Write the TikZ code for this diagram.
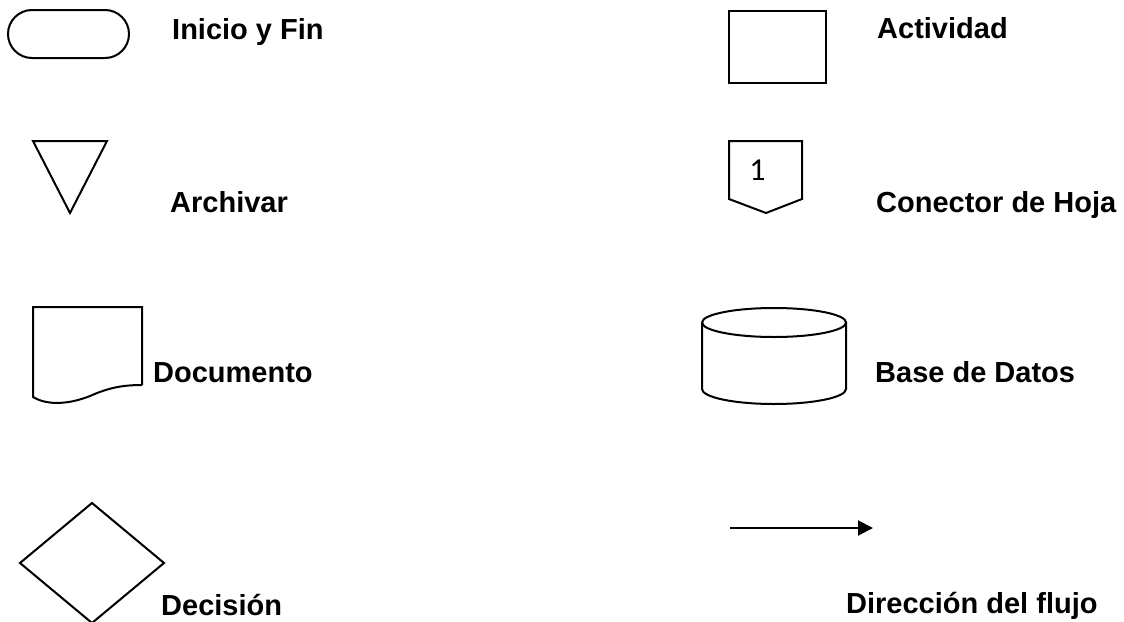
\documentclass[tikz,border=0pt]{standalone}
\usepackage{fontspec}
\setmainfont{Liberation Sans}
\newfontfamily\calib{Carlito}
\usetikzlibrary{arrows.meta}
\begin{document}
\begin{tikzpicture}[x=1pt,y=-1pt,
  shp/.style={draw=black,line width=2pt,line join=miter},
  lbl/.style={anchor=base west,inner sep=0pt,font=\fontsize{29}{34}\selectfont\bfseries},
  flow/.style={-{Triangle[length=15pt,width=15pt]},line width=2pt}]
\useasboundingbox (0,0) rectangle (1124,621);
% Inicio y Fin
\draw[shp,rounded corners=24pt] (8,10) rectangle (129,58);
\node[lbl] (tinicio) at (172,39) {Inicio y Fin};
% Actividad
\draw[shp] (729,11) rectangle (826,83);
\node[lbl] (tact) at (877,38) {Actividad};
% Archivar
\draw[shp] (33,141) -- (107,141) -- (70,213) -- cycle;
\node[lbl] (tarch) at (170,212) {Archivar};
% Conector de Hoja
\draw[shp] (729,141) -- (802,141) -- (802,199) -- (766,213) -- (729,199) -- cycle;
\node[anchor=base,inner sep=0pt,font=\calib\fontsize{32}{38}\selectfont] (uno) at (757.5,180) {1};
\node[lbl] (tcon) at (876,212) {Conector de Hoja};
% Documento
\draw[shp] (142,385) -- (142,307) -- (33,307) -- (33,397)
  .. controls (48,406) and (70,404) .. (90,396)
  .. controls (108,388) and (122,385) .. (142,385);
\node[lbl] (tdoc) at (153,382) {Documento};
% Base de Datos
\draw[shp] (702,322.5) -- (702,389) arc[start angle=180,end angle=0,x radius=72,y radius=15] -- (846,322.5);
\draw[shp] (774,322.5) ellipse[x radius=72,y radius=14.5];
\node[lbl] (tbase) at (875,382) {Base de Datos};
% Decision
\draw[shp] (92,503) -- (164,563) -- (92,623) -- (20,563) -- cycle;
\node[lbl] (tdec) at (161,615) {Decisión};
% Direccion del flujo
\coordinate (fa) at (730,528);
\coordinate (fb) at (873,528);
\draw[flow] (fa) -- (fb);
\node[lbl] (tflujo) at (846,613) {Dirección del flujo};
\end{tikzpicture}
\end{document}
